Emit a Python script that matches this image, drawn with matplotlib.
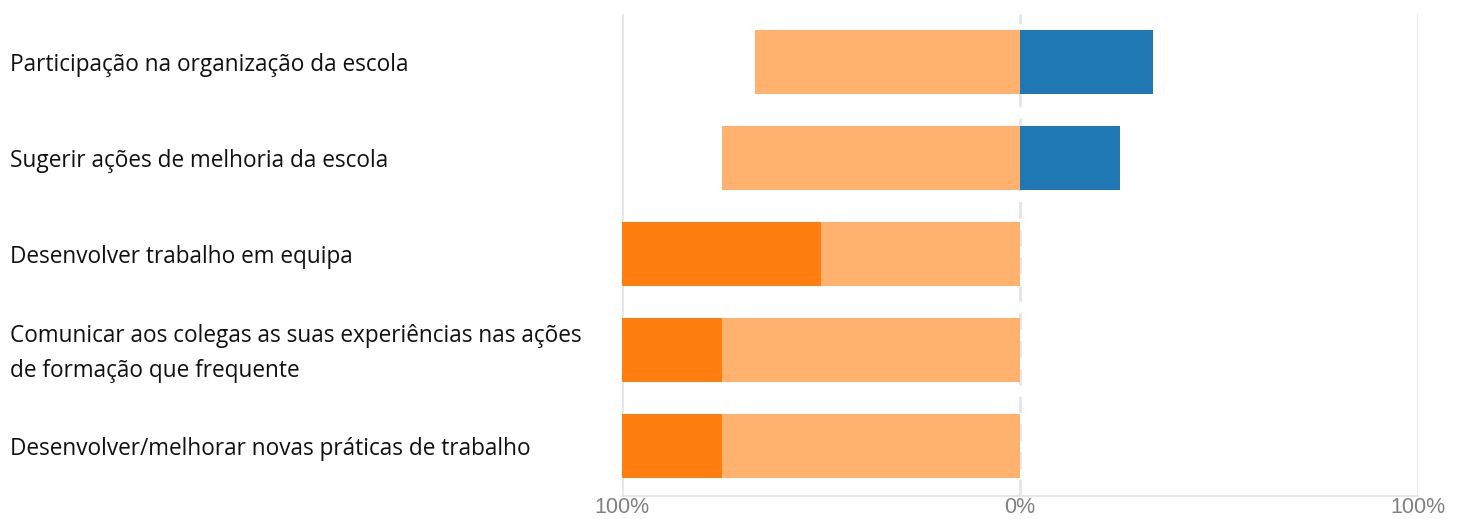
import matplotlib.pyplot as plt
from matplotlib.transforms import blended_transform_factory

# data (percent)
categorias = ["Participação na organização da escola",
              "Sugerir ações de melhoria da escola",
              "Desenvolver trabalho em equipa",
              "Comunicar aos colegas as suas experiências nas ações\nde formação que frequente",
              "Desenvolver/melhorar novas práticas de trabalho"]
nada = [0, 0, 50, 25, 25]        # laranja escuro
pouco = [66.7, 75, 50, 75, 75]   # laranja claro
muito = [33.3, 25, 0, 0, 0]      # azul
xticks = [-100, 0, 100]
xticklabels = ["100%", "0%", "100%"]

fig = plt.figure(figsize=(14.63, 5.19), dpi=100)
ax = fig.add_axes([622/1463, 23/519, 796/1463, 482/519])

y = list(range(len(categorias)))
h = 0.665
ax.barh(y, [-p for p in pouco], height=h, color='#feb26e', zorder=3)
ax.barh(y, [-n for n in nada], left=[-p for p in pouco], height=h, color='#fe7f0f', zorder=3)
ax.barh(y, muito, height=h, color='#1f77b4', zorder=3)

ax.set_xlim(-100, 100)
ax.set_ylim(4.52, -0.5)

ax.axvline(-100, color='#e6e6e6', lw=2, zorder=1)
ax.axvline(100, color='#e6e6e6', lw=2, zorder=1)
ax.axvline(0, color='#e6e6e6', lw=2, ls=(0, (6, 4)), zorder=1)

for s in ['top', 'left', 'right']:
    ax.spines[s].set_visible(False)
ax.spines['bottom'].set_color('#e6e6e6')
ax.spines['bottom'].set_linewidth(1.5)

ax.set_yticks([])
ax.set_xticks(xticks)
ax.set_xticklabels(xticklabels, fontsize=15.5, color='#808080', family='Liberation Sans')
ax.tick_params(axis='x', length=0, pad=1)

trans = blended_transform_factory(fig.transFigure, ax.transData)
for i, c in enumerate(categorias):
    ax.text(10/1463, i + 0.035, c, transform=trans, ha='left', va='center',
            fontsize=16.3, family='Open Sans', color='#111111', linespacing=1.6)

fig.savefig('out.png', dpi=100)
